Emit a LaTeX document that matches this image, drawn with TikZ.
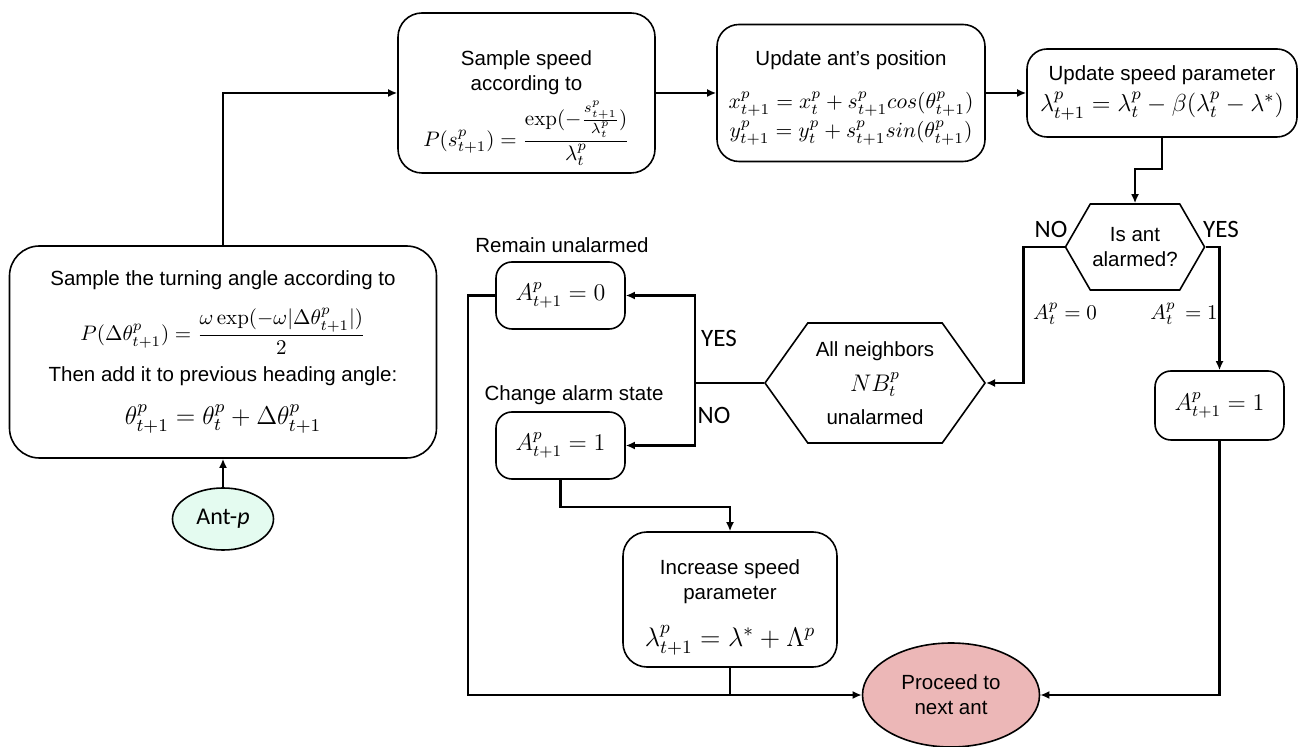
\documentclass[tikz,border=0pt]{standalone}
\usepackage{fix-cm}
\usepackage{amsmath}
\usepackage{fontspec}
\setsansfont{Liberation Sans}
\newfontfamily\calibri{Carlito}
\usepackage{tikz}
\usetikzlibrary{shapes.geometric, shapes.symbols, shapes.misc, arrows.meta}
\usetikzlibrary{calc}
\usetikzlibrary{positioning}

\definecolor{antgreen}{RGB}{228,251,240}
\definecolor{nextred}{RGB}{236,183,183}

% formula at a given point size
\newcommand{\fml}[2]{{\fontsize{#1}{#1}\selectfont$#2$}}

\tikzset{
  procbox/.style={rectangle, draw, line width=0.8pt, rounded corners=12pt,
    align=center, inner sep=2pt, font=\sffamily\fontsize{10.25}{12.5}\selectfont},
  decision/.style={signal, signal to=west and east, draw, line width=0.8pt,
    align=center, inner sep=1pt, font=\sffamily\fontsize{10.25}{12.5}\selectfont},
  terminal/.style={ellipse, draw, line width=0.8pt, align=center, inner sep=1pt},
  flow/.style={line width=1.1pt, -{Latex[length=4.5pt,width=4pt]}},
  joint/.style={line width=1.1pt},
  branch/.style={font=\calibri\fontsize{12.5}{14}\selectfont},
  caption/.style={font=\sffamily\fontsize{10.25}{12.5}\selectfont},
}

\begin{document}
\begin{tikzpicture}[x=0.5pt, y=-0.5pt]
  \useasboundingbox (0,0) rectangle (1299,747);

  % movement of one ant
  \node[procbox, minimum width=213.5pt, minimum height=106pt, rounded corners=15pt] (turn) at (223,352)
    {Sample the turning angle according to\\[8pt]
     \fml{10.5}{P(\Delta\theta^p_{t+1}) = \dfrac{\omega\exp(-\omega|\Delta\theta^p_{t+1}|)}{2}}\\[5pt]
     Then add it to previous heading angle:\\[9pt]
     \fml{12.8}{\theta^p_{t+1} = \theta^p_t + \Delta\theta^p_{t+1}}};
  \node[terminal, fill=antgreen, minimum width=50.5pt, minimum height=31pt,
    font=\calibri\fontsize{12}{14}\selectfont] (ant) at (223,519) {Ant-\textit{p}};
  \node[procbox, minimum width=128.5pt, minimum height=80pt] (speed) at (526.5,93)
    {\rule{0pt}{22.5pt}Sample speed\\ according to\\[2.5pt]
     \fml{10.5}{P(s^p_{t+1}) = \dfrac{\exp(-\frac{s^p_{t+1}}{\lambda^p_t})}{\lambda^p_t}}};
  \node[procbox, minimum width=134pt, minimum height=68.5pt, rounded corners=11pt] (pos) at (851,93)
    {\rule{0pt}{12.5pt}Update ant’s position\\[9pt]
     \fml{10.8}{x^p_{t+1} = x^p_t + s^p_{t+1}cos(\theta^p_{t+1})}\\[2pt]
     \fml{10.8}{y^p_{t+1} = y^p_t + s^p_{t+1}sin(\theta^p_{t+1})}};
  \node[procbox, minimum width=135pt, minimum height=44pt, rounded corners=10pt] (upd) at (1162,93)
    {Update speed parameter\\[3pt]
     \fml{12.3}{\lambda^p_{t+1} = \lambda^p_t - \beta(\lambda^p_t - \lambda^*)}};

  % alarm logic
  \node[decision, signal pointer angle=120, minimum width=68pt, minimum height=43pt] (alarm) at (1135,247)
    {Is ant\\ alarmed?};
  \node[decision, signal pointer angle=109, minimum width=110pt, minimum height=60pt] (nb) at (875,383)
    {All neighbors\\[5pt] \fml{12}{NB^p_t}\\[4pt] unalarmed};
  \node[procbox, minimum width=64.5pt, minimum height=34.5pt, rounded corners=8pt] (setA) at (1219.5,405.5)
    {\fml{12}{A^p_{t+1} = 1}};
  \node[procbox, minimum width=64.5pt, minimum height=33.5pt, rounded corners=8pt] (stay) at (560.5,295.5)
    {\fml{12}{A^p_{t+1} = 0}};
  \node[procbox, minimum width=64.5pt, minimum height=33.5pt, rounded corners=8pt] (change) at (560.5,445.5)
    {\fml{12}{A^p_{t+1} = 1}};
  \node[procbox, minimum width=107pt, minimum height=67.5pt] (incr) at (730,599.5)
    {\rule{0pt}{15.5pt}Increase speed\\ parameter\\[10pt]
     \fml{13.4}{\lambda^p_{t+1} = \lambda^* + \Lambda^p}};
  \node[terminal, fill=nextred, minimum width=88.5pt, minimum height=52pt,
    font=\sffamily\fontsize{10.25}{12.5}\selectfont] (next) at (951,695) {Proceed to\\ next ant};

  % labels
  \node[branch] (noA) at (1051,229) {NO};
  \node[branch] (yesA) at (1221,229) {YES};
  \node[branch] (yesB) at (719,338) {YES};
  \node[branch] (noB) at (714,415) {NO};
  \node (a0) at (1065,314) {\fml{10.5}{A^p_t = 0}};
  \node (a1) at (1184,314) {\fml{10.5}{A^p_t \,= 1}};
  \node[caption] (stayCap) at (562,245) {Remain unalarmed};
  \node[caption] (changeCap) at (574,395) {Change alarm state};

  % connectors
  \draw[flow] (ant) -- (turn);
  \draw[flow] (turn.north) |- (speed.west);
  \draw[flow] (speed) -- (pos);
  \draw[flow] (pos) -- (upd);
  \draw[flow] (upd.south) -- ++(0,31) -| (alarm.north);
  \draw[flow] (alarm.west) -- ++(-41,0) |- (nb.east);
  \draw[flow] (alarm.east) -| (setA.north);
  \draw[flow] (setA.south) |- (next.east);
  \coordinate (split) at ($(nb.west)+(-69,0)$);
  \draw[joint] (nb.west) -- (split);
  \draw[flow] (split) |- (stay.east);
  \draw[flow] (split) |- (change.east);
  \draw[flow] (stay.west) -- ++(-27,0) |- (next.west);
  \draw[flow] (change.south) -- ++(0,27) -| (incr.north);
  \draw[joint] (incr.south) -- (incr.south |- next.west);
\end{tikzpicture}
\end{document}
